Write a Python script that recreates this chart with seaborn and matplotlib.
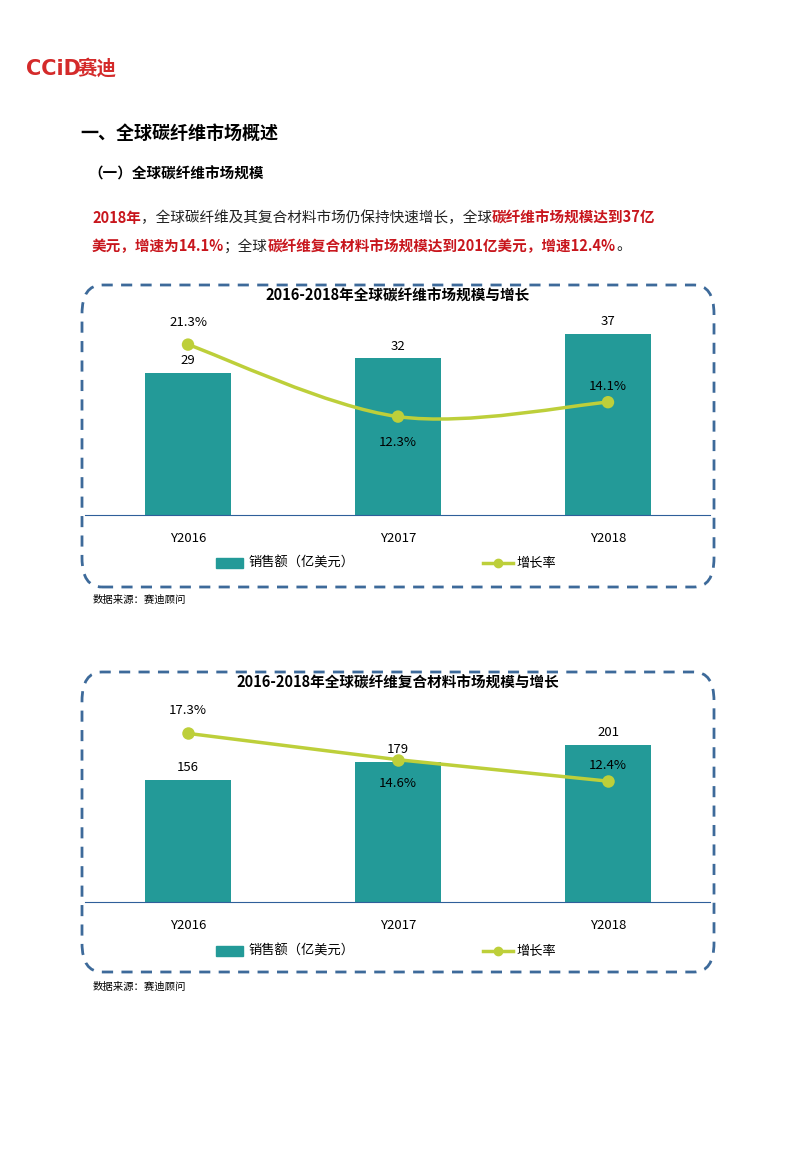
import numpy as np
import pandas as pd
import seaborn as sns
import matplotlib.pyplot as plt
from matplotlib.patches import FancyBboxPatch
from matplotlib.path import Path
from matplotlib.patches import PathPatch
from matplotlib.lines import Line2D

plt.rcParams["font.family"] = "Noto Sans CJK SC"

YEARS = ["Y2016", "Y2017", "Y2018"]
FIBER_SALES = [29, 32, 37]
FIBER_GROWTH = [21.3, 12.3, 14.1]
COMP_SALES = [156, 179, 201]
COMP_GROWTH = [17.3, 14.6, 12.4]

TEAL = "#239a98"
LIME = "#bdcf3a"
FRAME = "#3d6a9a"
W, H = 800, 1156

fig = plt.figure(figsize=(8, 11.56), dpi=100)


def fy(y):
    return 1 - y / H


def txt(x, y, s, **kw):
    fig.text(x / W, fy(y), s, va="center", **kw)


# header
txt(26, 69, "CCiD", color="#d42a2a", fontsize=15, fontweight="bold", family="DejaVu Sans")
txt(78, 69, "赛迪", color="#d42a2a", fontsize=14, fontweight="bold")
txt(80, 133, "一、全球碳纤维市场概述", fontsize=13, fontweight="bold")
txt(88, 174, "（一）全球碳纤维市场规模", fontsize=10.5, fontweight="bold")

RED = "#c8161d"
line1 = [("2018年", RED, "bold"), ("，全球碳纤维及其复合材料市场仍保持快速增长，全球", "#222", "normal"),
         ("碳纤维市场规模达到37亿", RED, "bold")]
line2 = [("美元，增速为14.1%", RED, "bold"), ("；全球", "#222", "normal"),
         ("碳纤维复合材料市场规模达到201亿美元，增速12.4%", RED, "bold"), ("。", "#222", "normal")]
renderer = fig.canvas.get_renderer()
for yy, parts in [(218, line1), (246, line2)]:
    x = 92
    for s, c, w in parts:
        t = fig.text(x / W, fy(yy), s, va="center", color=c, fontweight=w, fontsize=10.5)
        x += t.get_window_extent(renderer).width


def chart(top, bottom, title, sales, growth, ymax_bar, ymax_line, smooth):
    box = FancyBboxPatch((82 / W, fy(bottom)), 632 / W, (bottom - top) / H,
                         boxstyle="round,pad=0,rounding_size=0.025", transform=fig.transFigure,
                         fill=False, ec=FRAME, lw=2, ls=(0, (4, 3)))
    fig.patches.append(box)
    txt(398, top + 11, title, ha="center", fontsize=10.5, fontweight="bold")
    base = top + 230
    ax = fig.add_axes([85 / W, fy(base), 625 / W, 230 / H])
    df = pd.DataFrame({"year": YEARS, "sales": sales})
    sns.barplot(data=df, x="year", y="sales", color=TEAL, width=0.41, ax=ax, saturation=1)
    ax.set_xlim(-103 / 210, 2 + 102 / 210)
    ax.set_ylim(0, ymax_bar)
    for i, v in enumerate(sales):
        ax.text(i, v + ymax_bar * 0.025, str(v), ha="center", va="bottom", fontsize=9.5)
    for s in ["top", "right", "left"]:
        ax.spines[s].set_visible(False)
    ax.spines["bottom"].set_color("#2f5f9a")
    ax.set_yticks([])
    ax.tick_params(axis="x", length=0, labelsize=9.5, pad=12)
    ax.set_xlabel("")
    ax.set_ylabel("")
    ax.patch.set_alpha(0)

    ax2 = ax.twinx()
    ax2.set_ylim(0, ymax_line)
    ax2.axis("off")
    xs = np.arange(len(growth))
    if smooth:
        pts = list(zip(xs, growth))
        verts = [pts[0]]
        codes = [Path.MOVETO]
        for i in range(len(pts) - 1):
            p0 = pts[max(i - 1, 0)]
            p1, p2 = pts[i], pts[i + 1]
            p3 = pts[min(i + 2, len(pts) - 1)]
            c1 = (p1[0] + (p2[0] - p0[0]) / 6, p1[1] + (p2[1] - p0[1]) / 6)
            c2 = (p2[0] - (p3[0] - p1[0]) / 6, p2[1] - (p3[1] - p1[1]) / 6)
            verts += [c1, c2, p2]
            codes += [Path.CURVE4] * 3
        ax2.add_patch(PathPatch(Path(verts, codes), fill=False, ec=LIME, lw=2.5))
        sns.scatterplot(x=xs, y=growth, color=LIME, s=80, ax=ax2, zorder=5, edgecolor="none")
    else:
        sns.lineplot(x=xs, y=growth, color=LIME, lw=2.5, marker="o", markersize=9,
                     markeredgewidth=0, ax=ax2)
    ax2.set_xlim(ax.get_xlim())
    ax2.axis("off")
    return ax, ax2


ax, ax2 = chart(285, 587, "2016-2018年全球碳纤维市场规模与增长", FIBER_SALES, FIBER_GROWTH,
                47, 28.75, True)
offs = [(0, 2.8), (0, -3.2), (0, 2.0)]
for i, v in enumerate(FIBER_GROWTH):
    ax2.text(i, v + offs[i][1], f"{v}%", ha="center", va="center", fontsize=9.5)

ax, ax2 = chart(672, 972, "2016-2018年全球碳纤维复合材料市场规模与增长", COMP_SALES, COMP_GROWTH,
                294, 23.6, False)
offs = [2.3, -2.4, 1.6]
for i, v in enumerate(COMP_GROWTH):
    ax2.text(i, v + offs[i], f"{v}%", ha="center", va="center", fontsize=9.5)

# legends and sources
for ly, sy in [(563, 600), (951, 987)]:
    fig.patches.append(plt.Rectangle((216 / W, fy(ly + 5)), 27 / W, 10 / H,
                                     transform=fig.transFigure, color=TEAL))
    txt(248, ly, "销售额（亿美元）", fontsize=9.5)
    fig.lines.append(Line2D([483 / W, 513 / W], [fy(ly), fy(ly)], transform=fig.transFigure,
                            color=LIME, lw=2.5, marker="o", markevery=[0], markersize=0))
    fig.lines.append(Line2D([498 / W], [fy(ly)], transform=fig.transFigure,
                            color=LIME, marker="o", markersize=6))
    txt(516, ly, "增长率", fontsize=9.5)
    txt(93, sy, "数据来源：赛迪顾问", fontsize=7.5)

fig.savefig("out.png", dpi=100)
